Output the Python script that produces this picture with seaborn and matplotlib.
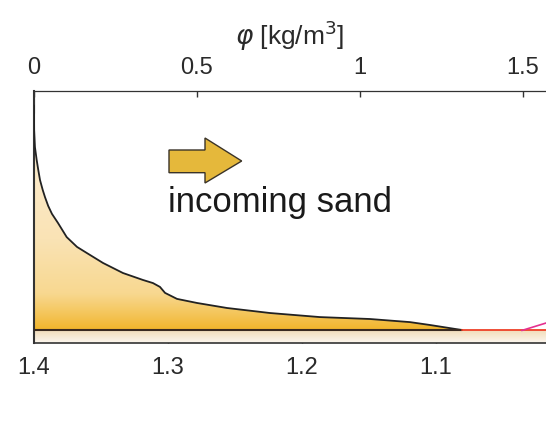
import numpy as np
import matplotlib
matplotlib.use('Agg')
import matplotlib.pyplot as plt
import matplotlib.patches as mpatches
from matplotlib.colors import LinearSegmentedColormap
import seaborn as sns

# profile (bottom axis value, height above bed)
pos = [1.4000, 1.4000, 1.3999, 1.3993, 1.3980, 1.3968, 1.3955, 1.3935, 1.3918,
       1.3894, 1.3866, 1.3821, 1.3756, 1.3679, 1.3607, 1.3485, 1.3336,
       1.3187, 1.3112, 1.3060, 1.3022, 1.2933, 1.2784, 1.2560, 1.2239, 1.1866,
       1.1493, 1.1194, 1.1045, 1.0806]
height = [0.971, 0.908, 0.837, 0.766, 0.712, 0.670, 0.628, 0.587, 0.557,
          0.520, 0.487, 0.449, 0.390, 0.349, 0.324, 0.282, 0.240,
          0.211, 0.198, 0.182, 0.157, 0.132, 0.115, 0.094, 0.073, 0.056,
          0.048, 0.035, 0.023, 0.002]

red_x = [1.0806, 1.0]
red_h = [0.0, 0.0]
mag_x = [1.036, 1.0]
mag_h = [0.0, 0.062]

bottom_ticks = [1.4, 1.3, 1.2, 1.1]
bottom_labels = ['1.4', '1.3', '1.2', '1.1']
top_ticks = [0, 0.5, 1, 1.5]
top_labels = ['0', '0.5', '1', '1.5']

sns.set_style('white')
plt.rcParams['font.family'] = ['Liberation Sans', 'DejaVu Sans']
plt.rcParams['mathtext.fontset'] = 'dejavusans'

W, H = 546, 422
fig = plt.figure(figsize=(W / 100, H / 100), dpi=100)
ax = fig.add_axes([34 / W, 79 / H, 512 / W, 252 / H])

ymin = -0.0522

# gradient fill under the profile
poly = ax.fill_between(pos, 0, height, facecolor='none', edgecolor='none')
sand = LinearSegmentedColormap.from_list(
    'sand', [(0, '#F1B52C'), (0.06, '#F4C456'), (0.15, '#F8D890'),
             (0.38, '#FAE3B5'), (1, '#FEF3E0')])
grad = np.linspace(0, 1, 256).reshape(-1, 1)
im = ax.imshow(grad, cmap=sand, extent=[1.4, 1.0, 0, 1], origin='lower',
               aspect='auto', zorder=1)
im.set_clip_path(poly.get_paths()[0], transform=ax.transData)

# bed band below
bed = LinearSegmentedColormap.from_list('bed', ['#FCF7EE', '#F2DCBA'])
ax.imshow(grad, cmap=bed, extent=[1.4, 1.0, ymin, 0], origin='lower',
          aspect='auto', zorder=1)

sns.lineplot(x=pos, y=height, sort=False, color='#222222', lw=1.3, ax=ax, zorder=3)
sns.lineplot(x=[pos[-1], pos[0]], y=[0, 0], sort=False, color='#3a2a20', lw=1.5, ax=ax, zorder=3)
sns.lineplot(x=red_x, y=red_h, sort=False, color='#EE4027', lw=1.3, ax=ax, zorder=3)
sns.lineplot(x=mag_x, y=mag_h, sort=False, color='#E5318F', lw=1.2, ax=ax, zorder=4)

ax.set_xlim(1.4, 1.0179)
ax.set_ylim(ymin, 1)
ax.set_yticks([])
ax.set_xticks(bottom_ticks)
ax.set_xticklabels(bottom_labels)
ax.tick_params(axis='x', direction='in', length=6, width=1, color='#333333',
               pad=10, labelsize=17, labelcolor='#2a2a2a', bottom=True)
for side in ['left', 'bottom', 'top']:
    ax.spines[side].set_visible(True)
    ax.spines[side].set_color('#333333')
ax.spines['left'].set_linewidth(1.5)
ax.spines['bottom'].set_linewidth(1.2)
ax.spines['top'].set_linewidth(0.9)
ax.spines['right'].set_visible(False)

ax2 = ax.twiny()
ax2.set_xlim(0, 1.572)
ax2.set_xticks(top_ticks)
ax2.set_xticklabels(top_labels)
ax2.tick_params(axis='x', direction='in', length=4, width=1, color='#333333',
                pad=8.5, labelsize=17, labelcolor='#2a2a2a', top=True)
for s in ax2.spines.values():
    s.set_visible(False)
ax2.set_xlabel(r'$\varphi$ [kg/m$^3$]', fontsize=19, color='#2a2a2a', labelpad=9)

# block arrow and caption
arrow_px = [(169, 150), (205, 150), (205, 138), (241.7, 161), (205, 183),
            (205, 172.7), (169, 172.7)]
arrow = mpatches.Polygon([(x / W, 1 - y / H) for x, y in arrow_px], closed=True,
                         facecolor='#E5B83B', edgecolor='#3a3328', lw=1,
                         transform=fig.transFigure)
fig.patches.append(arrow)
fig.text(168 / W, 1 - 212 / H, 'incoming sand', fontsize=25, color='#1a1a1a',
         va='baseline', ha='left')

fig.savefig('out.png', dpi=100)
